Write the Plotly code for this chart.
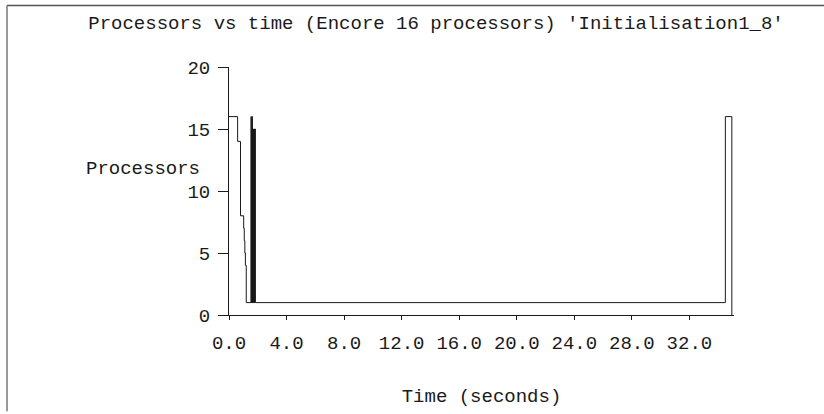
import plotly.graph_objects as go

# Step data: time (s) at which processor count changes, and the new count
time_s = [0.00, 0.60, 0.80, 1.02, 1.06, 1.10, 1.14, 1.20,
          1.53, 1.55, 1.57, 1.59, 1.61, 1.63, 1.65, 1.67, 1.69, 1.71,
          1.73, 1.75, 1.77, 1.79, 1.81, 1.83, 34.50, 34.95]
processors = [16, 14, 8, 7, 6, 5, 4, 1,
              16, 1, 15, 1, 16, 1, 15, 1, 15, 1,
              15, 1, 15, 1, 15, 1, 16, 0]

x_ticks = [0, 4, 8, 12, 16, 20, 24, 28, 32]
y_ticks = [0, 5, 10, 15, 20]

FONT = "Liberation Mono, Courier New, monospace"
INK = "#1a1a1a"
FS = 19

L, R, T, B = 229, 90, 67, 97
W, H = 824, 414
pw, ph = W - L - R, H - T - B

def px(xp):
    return (xp - L) / pw

def py(yp):
    return (H - B - yp) / ph

fig = go.Figure()
fig.add_trace(go.Scatter(
    x=time_s, y=processors, mode="lines",
    line=dict(shape="hv", color=INK, width=1),
    hoverinfo="skip", showlegend=False,
))

fig.update_layout(
    width=W, height=H,
    margin=dict(l=L, r=R, t=T, b=B),
    paper_bgcolor="white", plot_bgcolor="white",
    font=dict(family=FONT, size=FS, color=INK),
    title=dict(
        text="Processors vs time (Encore 16 processors) 'Initialisation1_8'",
        xref="paper", x=px(436), xanchor="center",
        yref="container", y=1 - 22 / H, yanchor="middle",
        font=dict(family=FONT, size=FS, color=INK),
    ),
    xaxis=dict(
        range=[0, 35.1], tickvals=x_ticks,
        ticktext=[f"{v:.1f}" for v in x_ticks],
        showgrid=False, zeroline=False,
        showline=True, linecolor=INK, linewidth=1,
        ticks="outside", ticklen=4, tickcolor=INK,
        ticklabelstandoff=6,
        title=dict(text="Time (seconds)", standoff=34,
                   font=dict(family=FONT, size=FS, color=INK)),
    ),
    yaxis=dict(
        range=[0, 20], tickvals=y_ticks,
        showgrid=False, zeroline=False,
        showline=True, linecolor=INK, linewidth=1,
        ticks="outside", ticklen=10, tickcolor=INK,
        ticklabelstandoff=4,
    ),
    annotations=[dict(
        text="Processors", xref="paper", yref="y",
        x=px(202), y=11.8, xanchor="right", yanchor="middle",
        showarrow=False, font=dict(family=FONT, size=FS, color=INK),
    )],
    shapes=[
        dict(type="line", xref="paper", yref="paper",
             x0=px(7), x1=px(824), y0=py(5), y1=py(5),
             line=dict(color="#555", width=1.5)),
        dict(type="line", xref="paper", yref="paper",
             x0=px(7), x1=px(7), y0=py(5), y1=py(414),
             line=dict(color="#777", width=1.5)),
    ],
)

fig.write_html(
    "out.html",
    config={"displayModeBar": False},
    post_script="document.body.style.margin='0';document.body.style.overflow='hidden';",
)
